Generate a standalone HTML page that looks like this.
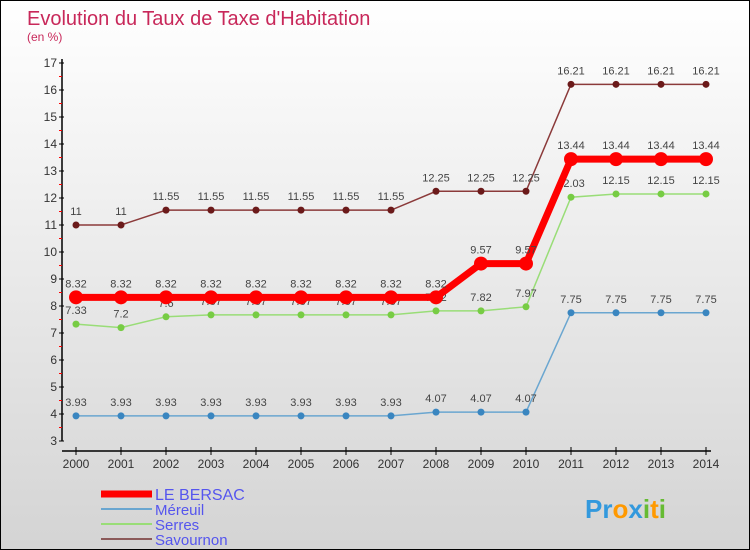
<!DOCTYPE html>
<html><head><meta charset="utf-8"><style>
body{margin:0;}
#c{width:748px;height:548px;border:1px solid #000;background:linear-gradient(#ffffff,#d4d4d4);position:relative;font-family:"Liberation Sans",sans-serif;overflow:hidden;}
svg{position:absolute;left:0;top:0;}
</style></head><body>
<div id="c">
<svg id="s" width="748" height="548">
<text x="26" y="24" font-size="20" fill="#c8285a">Evolution du Taux de Taxe d'Habitation</text>
<text x="26" y="40" font-size="12" fill="#c8285a">(en %)</text>
</svg></div>
<script>
const years=[2000,2001,2002,2003,2004,2005,2006,2007,2008,2009,2010,2011,2012,2013,2014];
const bersac=[8.32,8.32,8.32,8.32,8.32,8.32,8.32,8.32,8.32,9.57,9.57,13.44,13.44,13.44,13.44];
const mereuil=[3.93,3.93,3.93,3.93,3.93,3.93,3.93,3.93,4.07,4.07,4.07,7.75,7.75,7.75,7.75];
const serres=[7.33,7.2,7.6,7.67,7.67,7.67,7.67,7.67,7.82,7.82,7.97,12.03,12.15,12.15,12.15];
const savournon=[11,11,11.55,11.55,11.55,11.55,11.55,11.55,12.25,12.25,12.25,16.21,16.21,16.21,16.21];
const yTicks=[3,4,5,6,7,8,9,10,11,12,13,14,15,16,17];
const s=document.getElementById('s');const NS='http://www.w3.org/2000/svg';
function X(i){return 75+i*45;}function Y(v){return 440-(v-3)*27;}
function mk(t,a,p){const e=document.createElementNS(NS,t);for(const k in a)e.setAttribute(k,a[k]);(p||s).appendChild(e);return e;}
const ax=mk('g',{});


mk('line',{x1:61,y1:58,x2:61,y2:440,stroke:'#000','stroke-width':1.5},ax);
mk('line',{x1:61,y1:450,x2:710,y2:450,stroke:'#000','stroke-width':1.5},ax);
yTicks.forEach(v=>{mk('line',{x1:58,y1:Y(v),x2:63,y2:Y(v),stroke:'#000'},ax);
 if(v<17)mk('line',{x1:58,y1:Y(v+0.5),x2:61,y2:Y(v+0.5),stroke:'#f00'},ax);
 const t=mk('text',{x:56,y:Y(v)+4,'text-anchor':'end','font-size':12,fill:'#333'},ax);t.textContent=v;
 
 });
years.forEach((y,i)=>{mk('line',{x1:X(i),y1:446,x2:X(i),y2:454,stroke:'#000'},ax);
 const t=mk('text',{x:X(i),y:467,'text-anchor':'middle','font-size':12,fill:'#333'},ax);t.textContent=y;
 
 });
function series(name,data,col,w,r,pc){const g=mk('g',{});
 
 
 mk('polyline',{points:data.map((v,i)=>X(i)+','+Y(v)).join(' '),fill:'none',stroke:col,'stroke-width':w},g);
 data.forEach((v,i)=>{const c=mk('circle',{cx:X(i),cy:Y(v),r:r,fill:pc},g);
  
  
  const t=mk('text',{x:X(i),y:Y(v)-10,'text-anchor':'middle','font-size':11,fill:'#444'},g);t.textContent=v;
  
  });}
series('series-savournon',savournon,'#8b3a3a',1.5,3.5,'#6b1a1a');
series('series-mereuil',mereuil,'#6aa6d0',1.5,3.5,'#3a86c0');
series('series-serres',serres,'#99dd77',1.5,3.5,'#77cc44');
series('series-bersac',bersac,'#ff0000',7,7,'#ff0000');
const leg=[['LE BERSAC','#ff0000',7],['Méreuil','#6aa6d0',2],['Serres','#99dd77',2],['Savournon','#8b5a5a',2]];
leg.forEach((l,i)=>{const y=493+i*15;const g=mk('g',{});
 
 
 mk('line',{x1:100,y1:y,x2:151,y2:y,stroke:l[1],'stroke-width':l[2]},g);
 const t=mk('text',{x:154,y:y+6,'font-size':i==0?16:15,fill:'#5555ee'},g);t.textContent=l[0];});
const p=mk('text',{x:584,y:517,'font-size':26,'font-weight':'bold'});


[['Pr','#3399dd'],['o','#ff9900'],['x','#3399dd'],['i','#66bb33'],['t','#ff9900'],['i','#66bb33']].forEach(a=>{const t=mk('tspan',{fill:a[1]},p);t.textContent=a[0];});
</script></body></html>
